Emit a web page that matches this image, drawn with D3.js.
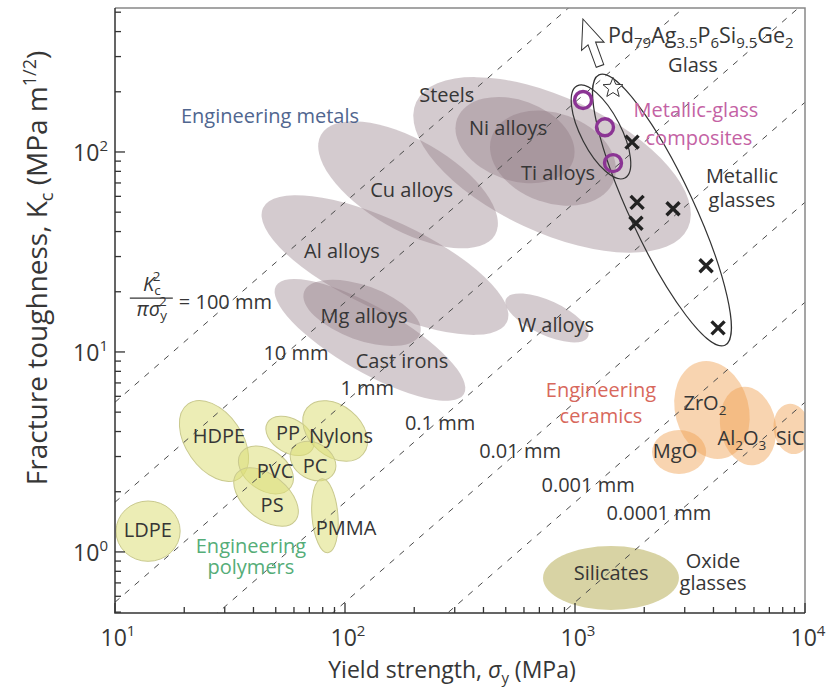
<!DOCTYPE html>
<html>
<head>
<meta charset="utf-8">
<script src="https://cdn.jsdelivr.net/npm/d3@7"></script>
<style>
  body { margin: 0; background: #fff; }
  text { font-family: "Open Sans", sans-serif; fill: #363636; }
</style>
</head>
<body>
<script>
// ---- data: bubbles given by the two ends of their long axis (yield strength MPa, toughness MPa m^1/2)
// r = short axis / long axis
const metals = [
  { name: "Steels",     s1: 204, k1: 178, s2: 3097, k2: 41.7, r: 0.45 },
  { name: "Ni alloys",  s1: 307, k1: 146, s2: 980,  k2: 90,   r: 0.65 },
  { name: "Ti alloys",  s1: 435, k1: 120, s2: 1479, k2: 72.4, r: 0.69 },
  { name: "Cu alloys",  s1: 78.7, k1: 122, s2: 449, k2: 38.5, r: 0.45 },
  { name: "Al alloys",  s1: 44,  k1: 52.5, s2: 506, k2: 14.1, r: 0.33 },
  { name: "Cast irons", s1: 50.1, k1: 21.4, s2: 329, k2: 6.17, r: 0.30 },
  { name: "Mg alloys",  s1: 66.4, k1: 20,  s2: 212, k2: 12.3, r: 0.44 },
  { name: "W alloys",   s1: 501, k1: 18.4, s2: 1140, k2: 11.9, r: 0.38 }
];
const polymers = [
  { name: "LDPE",  s1: 10.1, k1: 1.27, s2: 19.2, k2: 1.27, r: 0.94 },
  { name: "HDPE",  s1: 20.8, k1: 5.5,  s2: 34.9, k2: 2.34, r: 0.62 },
  { name: "PP",    s1: 46,   k1: 4.42, s2: 72.3, k2: 3.27, r: 0.65 },
  { name: "Nylons", s1: 68.4, k1: 5.25, s2: 120, k2: 3.09, r: 0.70 },
  { name: "PC",    s1: 58.9, k1: 3.27, s2: 89.6, k2: 2.48, r: 0.75 },
  { name: "PVC",   s1: 35.3, k1: 3.13, s2: 58.2, k2: 2.11, r: 0.67 },
  { name: "PS",    s1: 33.9, k1: 2.48, s2: 60.7, k2: 1.43, r: 0.58 },
  { name: "PMMA",  s1: 79.4, k1: 2.32, s2: 84.3, k2: 0.99, r: 0.35 }
];
const ceramics = [
  { name: "ZrO2",  s1: 3459, k1: 8.9,  s2: 4487, k2: 2.95, r: 0.74 },
  { name: "MgO",   s1: 2163, k1: 3.16, s2: 3715, k2: 3.16, r: 0.81 },
  { name: "Al2O3", s1: 5272, k1: 6.68, s2: 6067, k2: 2.72, r: 0.70 },
  { name: "SiC",   s1: 8433, k1: 5.5,  s2: 9141, k2: 3.09, r: 0.72 }
];
const oxideGlasses = [
  { name: "Silicates", s1: 726, k1: 0.741, s2: 2831, k2: 0.741, r: 0.47 }
];
const glassEnvelopes = [
  { name: "Metallic glasses",           s1: 1271, k1: 243, s2: 4487, k2: 10.8, r: 0.215 },
  { name: "Metallic-glass composites",  s1: 1021, k1: 214, s2: 1648, k2: 74.1, r: 0.385 }
];

// measured points
const metallicGlassX = [[1770, 112], [1862, 56], [1841, 44], [2668, 52], [3715, 27], [4188, 13.2]];
const compositeRings = [[1084, 182], [1350, 133], [1463, 88]];
const pdGlass = [1463, 209];

// process-zone lines K^2/(pi sigma^2), mm
const zoneSizes = [100, 10, 1, 0.1, 0.01, 0.001, 0.0001];
const zoneLabels = [
  ["10 mm", 61.2, 9.12], ["1 mm", 125, 6.1], ["0.1 mm", 259, 4.07],
  ["0.01 mm", 577, 2.95], ["0.001 mm", 1140, 2.0], ["0.0001 mm", 2317, 1.45]
];
const fracAnchor = [11.6, 18.6];

// plain labels [text, sigma, K]
const plainLabels = [
  ["Steels", 277, 178], ["Ni alloys", 512, 122], ["Ti alloys", 843, 72.4],
  ["Cu alloys", 195, 59.6], ["Al alloys", 97, 29.5], ["Mg alloys", 121, 14.0],
  ["Cast irons", 177, 8.32], ["W alloys", 826, 12.6],
  ["HDPE", 28.3, 3.51], ["PP", 56.5, 3.63], ["Nylons", 96.1, 3.51], ["PVC", 49.6, 2.34],
  ["PC", 74.1, 2.48], ["PS", 48.2, 1.58], ["PMMA", 101, 1.22], ["LDPE", 13.9, 1.19],
  ["MgO", 2723, 2.95], ["SiC", 8610, 3.43], ["Silicates", 1435, 0.724],
  ["Oxide", 3981, 0.832], ["glasses", 3981, 0.646],
  ["Glass", 3258, 251], ["Metallic", 5321, 70], ["glasses", 5321, 53]
];
const groupLabels = [
  ["Engineering metals", 47.2, 140, "#50668f"],
  ["Metallic-glass", 3357, 150, "#c462a4"], ["composites", 3459, 108, "#c462a4"],
  ["Engineering", 1297, 5.96, "#d8685c"], ["ceramics", 1297, 4.42, "#d8685c"],
  ["Engineering", 39, 0.99, "#55ad78"], ["polymers", 39, 0.775, "#55ad78"]
];
const subLabels = [
  [["Zr", ""], ["O", ""], ["2", "sub"]], [["Al", ""], ["2", "sub"], ["O", ""], ["3", "sub"]]
];
const subLabelPos = [[3673, 5.13], [5321, 3.43]];
const pdFormula = [["Pd", ""], ["79", "sub"], ["Ag", ""], ["3.5", "sub"], ["P", ""], ["6", "sub"],
                   ["Si", ""], ["9.5", "sub"], ["Ge", ""], ["2", "sub"]];
const pdFormulaPos = [1390, 351];

const xTickExps = [1, 2, 3, 4];
const yTickExps = [0, 1, 2];

// ---- layout
const W = 829, H = 691;
const margin = { left: 115, right: 24, top: 8, bottom: 78 };
const fs = 20, fsSub = 13.5;

const svg = d3.select("body").append("svg").attr("width", W).attr("height", H);

const x = d3.scaleLog().domain([10, 1e4]).range([margin.left, W - margin.right]);
const y = d3.scaleLog().domain([0.495, 524.8]).range([H - margin.bottom, margin.top]);
const [x0, x1] = x.range(), [y0, y1] = y.range();

svg.append("clipPath").attr("id", "plot")
  .append("rect").attr("x", x0).attr("y", y1).attr("width", x1 - x0).attr("height", y0 - y1);

const g = svg.append("g").attr("clip-path", "url(#plot)");

// place an ellipse from its long-axis ends
function placeEllipse(sel) {
  sel.each(function(d) {
    const ax = x(d.s1), ay = y(d.k1), bx = x(d.s2), by = y(d.k2);
    const rx = Math.hypot(bx - ax, by - ay) / 2;
    const ang = Math.atan2(by - ay, bx - ax) * 180 / Math.PI;
    d3.select(this)
      .attr("rx", rx).attr("ry", rx * d.r)
      .attr("transform", `translate(${(ax + bx) / 2},${(ay + by) / 2}) rotate(${ang})`);
  });
}

function bubbles(data, fill, opacity, stroke) {
  g.append("g").selectAll("ellipse").data(data).enter().append("ellipse")
    .call(placeEllipse)
    .attr("fill", fill).attr("fill-opacity", opacity)
    .attr("stroke", stroke || "none").attr("stroke-width", 1);
}

bubbles(metals, "#8e7680", 0.38);
bubbles(polymers, "#dcdf78", 0.55, "#c9c98e");
bubbles(ceramics, "#f0a050", 0.45);
bubbles(oxideGlasses, "#d8d3a4", 1);

// dashed guide lines
g.append("g").selectAll("path").data(zoneSizes).enter().append("path")
  .attr("d", L => {
    const c = Math.sqrt(Math.PI * L / 1000);
    return d3.line()([[x(10), y(10 * c)], [x(1e4), y(1e4 * c)]]);
  })
  .attr("fill", "none").attr("stroke", "#4a4a4a").attr("stroke-width", 1)
  .attr("stroke-dasharray", "6,7");

// envelopes round metallic glasses
g.append("g").selectAll("ellipse").data(glassEnvelopes).enter().append("ellipse")
  .call(placeEllipse)
  .attr("fill", "none").attr("stroke", "#333").attr("stroke-width", 1.2);

// composite rings
g.append("g").selectAll("circle").data(compositeRings).enter().append("circle")
  .attr("cx", d => x(d[0])).attr("cy", d => y(d[1])).attr("r", 8.5)
  .attr("fill", "none").attr("stroke", "#8b3494").attr("stroke-width", 3.4);

// metallic glass crosses
const cross = g.append("g").selectAll("g").data(metallicGlassX).enter().append("g")
  .attr("transform", d => `translate(${x(d[0])},${y(d[1])})`);
cross.append("path").attr("d", "M-6.5,-6.5L6.5,6.5M-6.5,6.5L6.5,-6.5")
  .attr("stroke", "#222").attr("stroke-width", 3.4);

// Pd glass star and arrow
const starPts = d3.range(10).map(i => {
  const a = -Math.PI / 2 + i * Math.PI / 5, rr = i % 2 ? 4.6 : 10.5;
  return [rr * Math.cos(a), rr * Math.sin(a)];
});
const sx = x(pdGlass[0]), sy = y(pdGlass[1]);
g.append("path").attr("d", d3.line()(starPts) + "Z")
  .attr("transform", `translate(${sx},${sy})`)
  .attr("fill", "#fff").attr("stroke", "#333").attr("stroke-width", 1);
g.append("path")
  .attr("d", "M0,-50L12,-21L4,-24L4,0L-4,0L-4,-24L-12,-21Z")
  .attr("transform", `translate(${sx - 13},${sy - 22}) rotate(-20)`)
  .attr("fill", "#fff").attr("stroke", "#333").attr("stroke-width", 1);

// ---- frame and ticks
svg.append("path").attr("d", `M${x0},${y1}H${x1}V${y0}`)
  .attr("fill", "none").attr("stroke", "#888").attr("stroke-width", 1.5);
svg.append("path").attr("d", `M${x0},${y1}V${y0}H${x1}`)
  .attr("fill", "none").attr("stroke", "#333").attr("stroke-width", 1.5);

const isMajor = v => Math.abs(Math.log10(v) - Math.round(Math.log10(v))) < 1e-6;
svg.append("g").selectAll("line").data(x.ticks()).enter().append("line")
  .attr("x1", d => x(d)).attr("x2", d => x(d))
  .attr("y1", y0).attr("y2", d => y0 - (isMajor(d) ? 10 : 6))
  .attr("stroke", "#333").attr("stroke-width", 1.3);
svg.append("g").selectAll("line").data(y.ticks()).enter().append("line")
  .attr("y1", d => y(d)).attr("y2", d => y(d))
  .attr("x1", x0).attr("x2", d => x0 + (isMajor(d) ? 10 : 6))
  .attr("stroke", "#333").attr("stroke-width", 1.3);

function power(sel, e) {
  sel.append("tspan").text("10");
  sel.append("tspan").attr("dy", -10).attr("font-size", 15).text(e);
}
svg.append("g").selectAll("text").data(xTickExps).enter().append("text")
  .attr("x", e => x(Math.pow(10, e)) + 3).attr("y", 646)
  .attr("text-anchor", "middle").attr("font-size", 23)
  .each(function(e) { power(d3.select(this), e); });
svg.append("g").selectAll("text").data(yTickExps).enter().append("text")
  .attr("x", x0 - 7).attr("y", e => y(Math.pow(10, e)) + 9)
  .attr("text-anchor", "end").attr("font-size", 23)
  .each(function(e) { power(d3.select(this), e); });

// axis titles
const xt = svg.append("text").attr("x", 452).attr("y", 678)
  .attr("text-anchor", "middle").attr("font-size", 23);
xt.append("tspan").text("Yield strength, ");
xt.append("tspan").attr("font-style", "italic").text("σ");
xt.append("tspan").attr("dy", 5).attr("font-size", 15).text("y");
xt.append("tspan").attr("dy", -5).text(" (MPa)");

const yt = svg.append("text").attr("transform", "translate(47,268) rotate(-90)")
  .attr("text-anchor", "middle").attr("font-size", 28);
yt.append("tspan").text("Fracture toughness, K");
yt.append("tspan").attr("dy", 6).attr("font-size", 18).text("c");
yt.append("tspan").attr("dy", -6).text(" (MPa m");
yt.append("tspan").attr("dy", -11).attr("font-size", 18).text("1/2");
yt.append("tspan").attr("dy", 11).text(")");

// ---- labels
const lab = svg.append("g").attr("font-size", fs);
lab.selectAll("text.plain").data(plainLabels).enter().append("text")
  .attr("x", d => x(d[1])).attr("y", d => y(d[2]))
  .attr("text-anchor", "middle").text(d => d[0]);
lab.selectAll("text.group").data(groupLabels).enter().append("text")
  .attr("x", d => x(d[1])).attr("y", d => y(d[2]))
  .attr("text-anchor", "middle").style("fill", d => d[3]).text(d => d[0]);

function chem(sel, parts, sub) {
  let down = false;
  parts.forEach(([t, k]) => {
    const ts = sel.append("tspan").text(t);
    if (k === "sub" && !down) { ts.attr("dy", 5).attr("font-size", sub); down = true; }
    else if (k === "sub") { ts.attr("font-size", sub); }
    else if (down) { ts.attr("dy", -5); down = false; }
  });
}
subLabels.forEach((parts, i) => {
  const t = lab.append("text").attr("x", x(subLabelPos[i][0])).attr("y", y(subLabelPos[i][1]))
    .attr("text-anchor", "middle");
  chem(t, parts, fsSub);
});
chem(lab.append("text").attr("x", x(pdFormulaPos[0])).attr("y", y(pdFormulaPos[1]))
  .attr("font-size", 21.5), pdFormula, 15);

// zone line labels
lab.selectAll("text.zone").data(zoneLabels).enter().append("text")
  .attr("x", d => x(d[1])).attr("y", d => y(d[2]))
  .attr("text-anchor", "middle").text(d => d[0]);

// K^2 / (pi sigma^2) = 100 mm
const fx = x(fracAnchor[0]), fy = y(fracAnchor[1]);
const num = lab.append("text").attr("x", fx + 22).attr("y", fy - 7).attr("text-anchor", "middle");
num.append("tspan").attr("font-style", "italic").text("K");
num.append("tspan").attr("dy", 4).attr("font-size", fsSub).text("c");
num.append("tspan").attr("dx", -8).attr("dy", -14).attr("font-size", fsSub).text("2");
lab.append("line").attr("x1", fx).attr("x2", fx + 43).attr("y1", fy).attr("y2", fy)
  .attr("stroke", "#363636").attr("stroke-width", 1.2);
const den = lab.append("text").attr("x", fx + 22).attr("y", fy + 18).attr("text-anchor", "middle");
den.append("tspan").attr("font-style", "italic").text("πσ");
den.append("tspan").attr("dy", 4).attr("font-size", fsSub).text("y");
den.append("tspan").attr("dx", -8).attr("dy", -14).attr("font-size", fsSub).text("2");
lab.append("text").attr("x", fx + 49).attr("y", fy + 11).text("= 100 mm");
</script>
</body>
</html>
